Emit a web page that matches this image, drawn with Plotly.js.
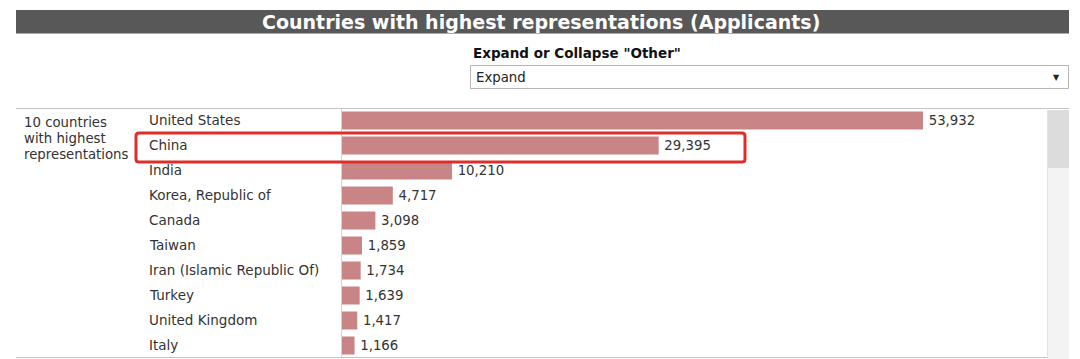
<!DOCTYPE html>
<html>
<head>
<meta charset="utf-8">
<script src="https://cdn.plot.ly/plotly-3.0.1.min.js"></script>
<style>
html,body{margin:0;padding:0;background:#fff;}
#chart{width:1080px;height:359px;}
</style>
</head>
<body>
<div id="chart"></div>
<script>
// ---- data ----
const countries = ["United States","China","India","Korea, Republic of","Canada","Taiwan","Iran (Islamic Republic Of)","Turkey","United Kingdom","Italy"];
const applicants = [53932,29395,10210,4717,3098,1859,1734,1639,1417,1166];
const titleText = "Countries with highest representations (Applicants)";
const groupLabelLines = ["10 countries","with highest","representations"];
const filterLabel = "Expand or Collapse \"Other\"";
const filterValue = "Expand";
const highlighted = "China";

// ---- geometry helpers ----
const W = 1080, H = 359, L = 342, R = 33, T = 108, B = 1;
const pw = W - L - R, ph = H - T - B;
const fx = p => (p - L) / pw;
const fy = p => 1 - (p - T) / ph;
const FONT = "DejaVu Sans, Verdana, sans-serif";

const trace = {
  type: "bar",
  orientation: "h",
  y: countries,
  x: applicants,
  marker: {color: "#c98585", line: {width: 0}},
  text: applicants.map(v => "\u2009" + v.toLocaleString("en-US")),
  textposition: "outside",
  constraintext: "none",
  cliponaxis: false,
  textfont: {family: FONT, size: 13.3, color: "#333333"},
  hoverinfo: "none"
};

function roundRectPath(x0, y0, x1, y1, r) {
  const X = v => fx(v), Y = v => fy(v);
  return `M${X(x0 + r)},${Y(y0)} L${X(x1 - r)},${Y(y0)} Q${X(x1)},${Y(y0)} ${X(x1)},${Y(y0 + r)} ` +
         `L${X(x1)},${Y(y1 - r)} Q${X(x1)},${Y(y1)} ${X(x1 - r)},${Y(y1)} ` +
         `L${X(x0 + r)},${Y(y1)} Q${X(x0)},${Y(y1)} ${X(x0)},${Y(y1 - r)} ` +
         `L${X(x0)},${Y(y0 + r)} Q${X(x0)},${Y(y0)} ${X(x0 + r)},${Y(y0)} Z`;
}

const shapes = [
  // title bar
  {type: "rect", xref: "paper", yref: "paper", x0: fx(16), x1: fx(1069), y0: fy(33.5), y1: fy(10),
   fillcolor: "#585858", line: {width: 0}, layer: "below"},
  // dropdown box
  {type: "rect", xref: "paper", yref: "paper", x0: fx(470.5), x1: fx(1068.5), y0: fy(88.5), y1: fy(65.5),
   fillcolor: "#ffffff", line: {color: "#b5b5b5", width: 1}},
  // top rule
  {type: "line", xref: "paper", yref: "paper", x0: fx(16), x1: fx(1069), y0: fy(108.5), y1: fy(108.5),
   line: {color: "#c4c4c4", width: 1}},
  // bottom rule
  {type: "line", xref: "paper", yref: "paper", x0: fx(16), x1: fx(1047), y0: fy(357.5), y1: fy(357.5),
   line: {color: "#c4c4c4", width: 1}},
  // axis line
  {type: "line", xref: "paper", yref: "paper", x0: fx(341.5), x1: fx(341.5), y0: fy(109), y1: fy(359),
   line: {color: "#d4d4d4", width: 1}},
  // scrollbar track
  {type: "rect", xref: "paper", yref: "paper", x0: fx(1047), x1: fx(1069), y0: fy(359), y1: fy(110),
   fillcolor: "#f3f3f3", line: {width: 0}},
  {type: "line", xref: "paper", yref: "paper", x0: fx(1047.5), x1: fx(1047.5), y0: fy(359), y1: fy(110),
   line: {color: "#e2e2e2", width: 1}},
  // scrollbar thumb
  {type: "rect", xref: "paper", yref: "paper", x0: fx(1048), x1: fx(1069), y0: fy(168), y1: fy(110),
   fillcolor: "#dcdcdc", line: {width: 0}},
  // highlight box
  {type: "path", xref: "paper", yref: "paper", path: roundRectPath(136, 133, 745, 162, 3),
   line: {color: "#dd2e2a", width: 3}, fillcolor: "rgba(0,0,0,0)"}
];

const annotations = [
  {text: "<b>" + titleText + "</b>", xref: "paper", yref: "paper", x: fx(541), y: fy(22.5),
   xanchor: "center", yanchor: "middle", showarrow: false,
   font: {family: FONT, size: 19, color: "#ffffff"}},
  {text: "<b>" + filterLabel + "</b>", xref: "paper", yref: "paper", x: fx(471), y: fy(52.5),
   xanchor: "left", yanchor: "middle", showarrow: false,
   font: {family: FONT, size: 13.5, color: "#111111"}},
  {text: filterValue, xref: "paper", yref: "paper", x: fx(474), y: fy(77.5),
   xanchor: "left", yanchor: "middle", showarrow: false,
   font: {family: FONT, size: 13.3, color: "#222222"}},
  {text: "▼", xref: "paper", yref: "paper", x: fx(1056), y: fy(77.5),
   xanchor: "center", yanchor: "middle", showarrow: false,
   font: {family: FONT, size: 8, color: "#222222"}}
].concat(groupLabelLines.map((t, i) => ({
  text: t, xref: "paper", yref: "paper", x: fx(22), y: fy(122.5 + 16 * i),
  xanchor: "left", yanchor: "middle", showarrow: false,
  font: {family: FONT, size: 13.3, color: "#333333"}
}))).concat(countries.map(c => ({
  text: c, xref: "paper", yref: "y", x: fx(147), y: c, yshift: 0.5,
  xanchor: "left", yanchor: "middle", showarrow: false,
  font: {family: FONT, size: 13.5, color: "#333333"}
})));

const layout = {
  width: W, height: H,
  margin: {l: L, r: R, t: T, b: B, pad: 0},
  paper_bgcolor: "#ffffff", plot_bgcolor: "#ffffff",
  showlegend: false,
  bargap: 0.28,
  xaxis: {range: [0, 65440], visible: false, fixedrange: true},
  yaxis: {type: "category", autorange: "reversed", showticklabels: false, showgrid: false,
          zeroline: false, showline: false, ticks: "", fixedrange: true},
  shapes: shapes,
  annotations: annotations,
  font: {family: FONT}
};

Plotly.newPlot("chart", [trace], layout, {displayModeBar: false, staticPlot: true});
</script>
</body>
</html>
